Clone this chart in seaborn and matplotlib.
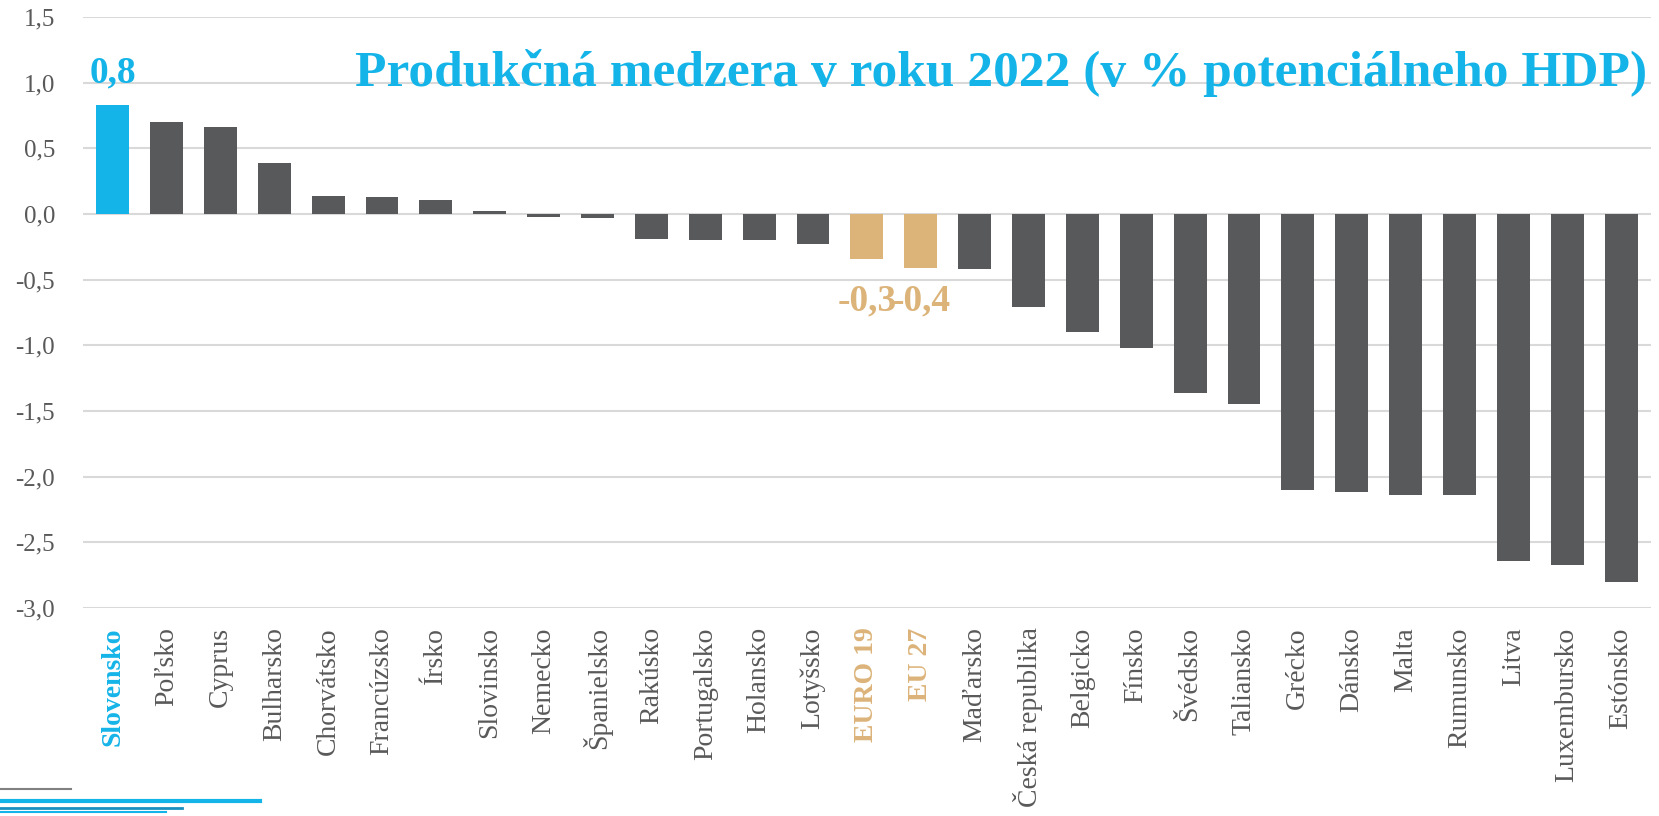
"""
Produkčná medzera v roku 2022 -- bar chart, recreated with seaborn.
"""

import pandas as pd
import matplotlib.pyplot as plt
import seaborn as sns
from matplotlib.lines import Line2D

COUNTRIES = [
    "Slovensko", "Poľsko", "Cyprus", "Bulharsko", "Chorvátsko", "Francúzsko",
    "Írsko", "Slovinsko", "Nemecko", "Španielsko", "Rakúsko", "Portugalsko",
    "Holansko", "Lotyšsko", "EURO 19", "EU 27", "Maďarsko", "Česká republika",
    "Belgicko", "Fínsko", "Švédsko", "Taliansko", "Grécko", "Dánsko", "Malta",
    "Rumunsko", "Litva", "Luxembursko", "Estónsko",
]
GAP = [
    0.83, 0.70, 0.66, 0.39, 0.14, 0.13, 0.11, 0.02, -0.02, -0.03, -0.19, -0.20,
    -0.20, -0.23, -0.34, -0.41, -0.42, -0.71, -0.90, -1.02, -1.36, -1.45, -2.10,
    -2.12, -2.14, -2.14, -2.64, -2.67, -2.80,
]
GROUP = ["SK"] + ["other"] * 13 + ["EU", "EU"] + ["other"] * 13

Y_TICKS = [1.5, 1.0, 0.5, 0.0, -0.5, -1.0, -1.5, -2.0, -2.5, -3.0]

BLUE = "#15B4E8"
GRAY = "#58595B"
GOLD = "#DCB47A"
TEXT = "#595959"
SERIF = "Liberation Serif"

df = pd.DataFrame({"country": COUNTRIES, "gap": GAP, "group": GROUP})

fig = plt.figure(figsize=(16.59, 8.16), dpi=100)
ax = fig.add_axes([0.05, 0.255, 0.945, 0.724])

sns.barplot(
    data=df, x="country", y="gap", hue="group", order=COUNTRIES,
    palette={"SK": BLUE, "other": GRAY, "EU": GOLD}, saturation=1,
    dodge=False, width=0.61, legend=False, ax=ax, zorder=3,
)

ax.set_ylim(-3.0, 1.5)
ax.set_xlim(-0.55, len(COUNTRIES) - 0.45)
ax.set_yticks(Y_TICKS)
ax.set_yticklabels([f"{v:.1f}".replace(".", ",") for v in Y_TICKS],
                   fontsize=18, color=TEXT, family=SERIF)
ax.yaxis.grid(True, color="#D9D9D9", linewidth=1.5, zorder=0)
ax.set_axisbelow(True)
ax.tick_params(axis="both", length=0)
ax.tick_params(axis="y", pad=20)
for s in ax.spines.values():
    s.set_visible(False)
ax.set_xlabel("")
ax.set_ylabel("")

ax.set_xticks(range(len(COUNTRIES)))
ax.set_xticklabels(COUNTRIES, rotation=90, fontsize=20, family=SERIF,
                   color=TEXT, va="top")
for lab, grp in zip(ax.get_xticklabels(), GROUP):
    if grp == "SK":
        lab.set_color(BLUE)
        lab.set_fontweight("bold")
    elif grp == "EU":
        lab.set_color(GOLD)
        lab.set_fontweight("bold")
ax.tick_params(axis="x", pad=14)

# value labels
sk = COUNTRIES.index("Slovensko")
ax.text(sk, 0.94, f"{GAP[sk]:.1f}".replace(".", ","), ha="center", va="bottom",
        fontsize=27, fontweight="bold", color=BLUE, family=SERIF)
for name in ["EURO 19", "EU 27"]:
    i = COUNTRIES.index(name)
    ax.text(i, -0.53, f"{GAP[i]:.1f}".replace(".", ","), ha="center", va="top",
            fontsize=27, fontweight="bold", color=GOLD, family=SERIF)

ax.text(0.998, 0.905, "Produkčná medzera v roku 2022 (v % potenciálneho HDP)",
        transform=ax.transAxes, ha="right", va="center", fontsize=37,
        fontweight="bold", color=BLUE, family=SERIF)

# decorative strokes in the lower left corner
for x0, x1, y, c, w in [
    (0.0, 0.043, 0.033, "#808080", 1.5),
    (0.0, 0.157, 0.018, BLUE, 3.0),
    (0.0, 0.11, 0.010, "#1a8fc0", 2.0),
    (0.0, 0.10, 0.005, BLUE, 1.5),
]:
    fig.add_artist(Line2D([x0, x1], [y, y], color=c, linewidth=w,
                          transform=fig.transFigure))

fig.savefig("out.png", dpi=100)
